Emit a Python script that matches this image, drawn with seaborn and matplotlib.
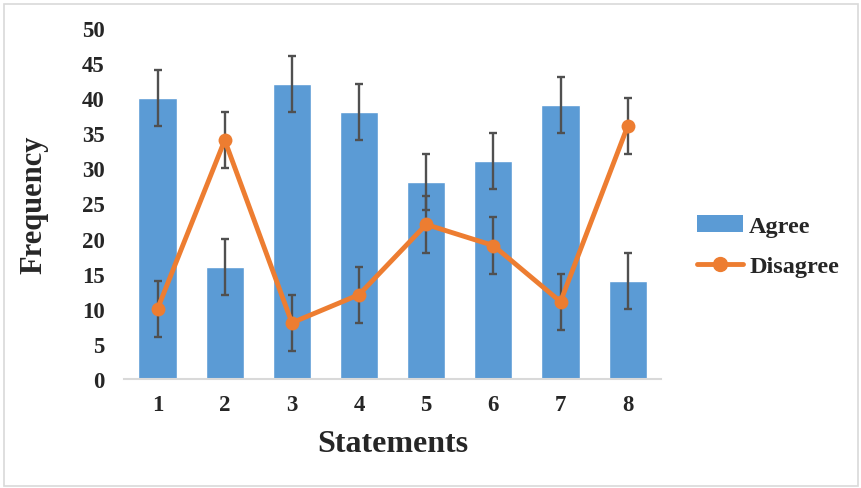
import numpy as np
import pandas as pd
import matplotlib
matplotlib.use("Agg")
import matplotlib.pyplot as plt
import seaborn as sns
from matplotlib.lines import Line2D
from matplotlib.patches import Patch, Rectangle

statements = ["1", "2", "3", "4", "5", "6", "7", "8"]
agree = [40, 16, 42, 38, 28, 31, 39, 14]
disagree = [10, 34, 8, 12, 22, 19, 11, 36]
agree_err = [4, 4, 4, 4, 4, 4, 4, 4]
disagree_err = [4, 4, 4, 4, 4, 4, 4, 4]
yticks = [0, 5, 10, 15, 20, 25, 30, 35, 40, 45, 50]

sns.set_theme(style="white")
plt.rcParams['font.family'] = ['Liberation Serif', 'DejaVu Serif']
plt.rcParams['font.weight'] = 'bold'

BLUE = "#5B9BD5"
ORANGE = "#ED7D31"
ERR = "#505050"

fig = plt.figure(figsize=(8.61, 4.89), dpi=100)
ax = fig.add_axes([0.144, 0.223, 0.624, 0.718])

df = pd.DataFrame({"Statements": statements, "Agree": agree, "Disagree": disagree})
sns.barplot(data=df, x="Statements", y="Agree", color=BLUE, saturation=1,
            width=0.57, ax=ax, zorder=1)
xs = np.arange(len(statements))
ax.errorbar(xs, agree, yerr=agree_err, fmt="none", ecolor=ERR, elinewidth=1.7,
            capsize=3.2, capthick=1.7, zorder=2)
ax.errorbar(xs, disagree, yerr=disagree_err, fmt="none", ecolor=ERR, elinewidth=1.7,
            capsize=3.2, capthick=1.7, zorder=2)
sns.lineplot(x=xs, y=disagree, color=ORANGE, linewidth=3.5, marker="o",
             markersize=10, markeredgewidth=0, ax=ax, zorder=3)

ax.set_xlim(-0.5, 7.5)
ax.set_ylim(0, 50)
ax.set_yticks(yticks)
ax.set_yticklabels([str(t) for t in yticks])
ax.tick_params(axis="y", length=0, labelsize=16.5, pad=14)
ax.tick_params(axis="x", length=0, labelsize=16.5, pad=11)
for lab in ax.get_xticklabels() + ax.get_yticklabels():
    lab.set_fontweight("bold")
ax.set_xlabel("Statements", fontsize=23, fontweight="bold", labelpad=10)
ax.set_ylabel("Frequency", fontsize=22, fontweight="bold", labelpad=24)
for s in ["top", "right", "left"]:
    ax.spines[s].set_visible(False)
ax.spines["bottom"].set_color("#D9D9D9")
ax.spines["bottom"].set_linewidth(1.5)

handles = [Patch(facecolor=BLUE, edgecolor="none"),
           Line2D([0], [0], color=ORANGE, linewidth=3.5, marker="o", markersize=10)]
leg = fig.legend(handles, ["Agree", "Disagree"], loc="center left",
                 bbox_to_anchor=(0.784, 0.495), frameon=False,
                 prop={"family": "Liberation Serif", "weight": "bold", "size": 17.5},
                 handlelength=1.9, handletextpad=0.25, labelspacing=0.75)

fig.patches.append(Rectangle((0.005, 0.005), 0.992, 0.985, transform=fig.transFigure,
                             fill=False, edgecolor="#D9D9D9", linewidth=1.2))

fig.savefig("out.png", dpi=100)
